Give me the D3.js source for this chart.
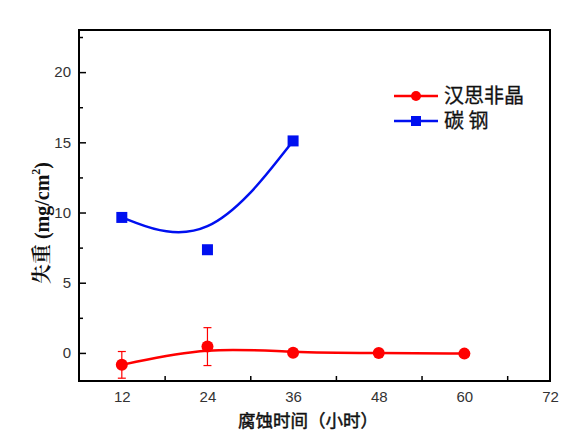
<!DOCTYPE html>
<html>
<head>
<meta charset="utf-8">
<script src="https://cdn.jsdelivr.net/npm/d3@7"></script>
<style>
  html, body { margin: 0; padding: 0; background: #fff; }
  svg { display: block; }
  .tick text { font-family: 'Liberation Sans', Arial, sans-serif; font-size: 15px; fill: #333; }
</style>
</head>
<body>
<svg id="chart" width="583" height="441"></svg>
<script>
// Corrosion time (hours) and weight loss (mg/cm2)
const hours = [12, 24, 36, 48, 60];
const amorphLoss = [-0.85, 0.45, 0.02, 0.0, -0.05];
const amorphErr = [0.95, 1.35, 0, 0, 0];
const steelHours = [12, 24, 36];
const steelLoss = [9.65, 7.35, 15.1];

const xTicks = [12, 24, 36, 48, 60, 72];
const xMinor = [18, 30, 42, 54, 66];
const yTicks = [0, 5, 10, 15, 20];
const yMinor = [2.5, 7.5, 12.5, 17.5, 22.5];

const seriesNames = ['汉思非晶', '碳 钢'];
const RED = '#ff0000';
const BLUE = '#0010f0';

const svg = d3.select('#chart');
const plot = { left: 79, right: 550, top: 30, bottom: 381 };

const x = d3.scaleLinear().domain([6, 72]).range([plot.left, plot.right]);
const y = d3.scaleLinear().domain([-2, 23]).range([plot.bottom, plot.top]);

// axes: ticks point inward, x major ticks hidden like the original
svg.append('g')
  .attr('transform', `translate(0,${plot.bottom})`)
  .call(d3.axisBottom(x).tickValues(xTicks).tickSize(0).tickPadding(10))
  .call((g) => g.select('.domain').remove());
svg.append('g')
  .attr('transform', `translate(0,${plot.bottom})`)
  .call(d3.axisBottom(x).tickValues(xMinor).tickSize(-5).tickFormat(''))
  .call((g) => g.select('.domain').remove())
  .selectAll('line').attr('stroke', '#000').attr('stroke-width', 1.5);

svg.append('g')
  .attr('transform', `translate(${plot.left},0)`)
  .call(d3.axisLeft(y).tickValues(yTicks).tickSizeInner(-7).tickSizeOuter(0).tickPadding(8))
  .call((g) => g.select('.domain').remove())
  .call((g) => g.selectAll('line').attr('stroke', '#000').attr('stroke-width', 1.5));
svg.append('g')
  .attr('transform', `translate(${plot.left},0)`)
  .call(d3.axisLeft(y).tickValues(yMinor).tickSize(-4).tickFormat(''))
  .call((g) => g.select('.domain').remove())
  .selectAll('line').attr('stroke', '#000').attr('stroke-width', 1.5);

// frame
svg.append('rect')
  .attr('x', plot.left).attr('y', plot.top)
  .attr('width', plot.right - plot.left).attr('height', plot.bottom - plot.top)
  .attr('fill', 'none').attr('stroke', '#000').attr('stroke-width', 2);

// B-spline curves
const line = d3.line().curve(d3.curveBasis).x((d) => x(d[0])).y((d) => y(d[1]));

const steelPts = steelHours.map((h, i) => [h, steelLoss[i]]);
const amorphPts = hours.map((h, i) => [h, amorphLoss[i]]);

svg.append('path').datum(steelPts).attr('d', line)
  .attr('fill', 'none').attr('stroke', BLUE).attr('stroke-width', 2.5);
svg.append('path').datum(amorphPts).attr('d', line)
  .attr('fill', 'none').attr('stroke', RED).attr('stroke-width', 2.5);

// error bars
const err = svg.append('g').attr('stroke', RED).attr('stroke-width', 1.2);
hours.forEach((h, i) => {
  if (!amorphErr[i]) return;
  const cx = x(h);
  const y1 = y(amorphLoss[i] + amorphErr[i]);
  const y2 = y(amorphLoss[i] - amorphErr[i]);
  err.append('line').attr('x1', cx).attr('x2', cx).attr('y1', y1).attr('y2', y2);
  err.append('line').attr('x1', cx - 4).attr('x2', cx + 4).attr('y1', y1).attr('y2', y1);
  err.append('line').attr('x1', cx - 4).attr('x2', cx + 4).attr('y1', y2).attr('y2', y2);
});

// markers
svg.append('g').selectAll('rect').data(steelPts).join('rect')
  .attr('x', (d) => x(d[0]) - 5.5).attr('y', (d) => y(d[1]) - 5.5)
  .attr('width', 11).attr('height', 11).attr('fill', BLUE);
svg.append('g').selectAll('circle').data(amorphPts).join('circle')
  .attr('cx', (d) => x(d[0])).attr('cy', (d) => y(d[1]))
  .attr('r', 6).attr('fill', RED);

// legend
const legend = svg.append('g');
[RED, BLUE].forEach((c, i) => {
  const ly = 96 + i * 25;
  legend.append('line').attr('x1', 394).attr('x2', 438).attr('y1', ly).attr('y2', ly)
    .attr('stroke', c).attr('stroke-width', 2.5);
  if (i === 0) {
    legend.append('circle').attr('cx', 416).attr('cy', ly).attr('r', 5).attr('fill', c);
  } else {
    legend.append('rect').attr('x', 411).attr('y', ly - 5).attr('width', 10).attr('height', 10).attr('fill', c);
  }
  legend.append('text').attr('x', 444).attr('y', ly + 7)
    .attr('font-family', "'Noto Sans CJK SC', sans-serif").attr('font-size', 20)
    .attr('fill', '#111').attr('stroke', '#111').attr('stroke-width', 0.3)
    .text(seriesNames[i]);
});

// axis titles
svg.append('text')
  .attr('x', 308).attr('y', 427).attr('text-anchor', 'middle')
  .attr('font-family', "'Noto Sans CJK SC', sans-serif").attr('font-size', 17.5)
  .attr('fill', '#111').attr('stroke', '#111').attr('stroke-width', 0.5)
  .text('腐蚀时间（小时）');

const yTitle = svg.append('text')
  .attr('transform', 'translate(49,223) rotate(-90)').attr('text-anchor', 'middle')
  .attr('font-weight', 'bold').attr('font-size', 20).attr('fill', '#111');
yTitle.append('tspan').attr('font-family', "'Noto Serif CJK SC', 'Noto Sans CJK SC', serif").text('失重 ');
yTitle.append('tspan').attr('font-family', "'Liberation Serif', serif").text('(mg/cm');
yTitle.append('tspan').attr('font-family', "'Liberation Serif', serif").attr('font-size', 12).attr('dy', -9).text('2');
yTitle.append('tspan').attr('font-family', "'Liberation Serif', serif").attr('dy', 9).text(')');
</script>
</body>
</html>
